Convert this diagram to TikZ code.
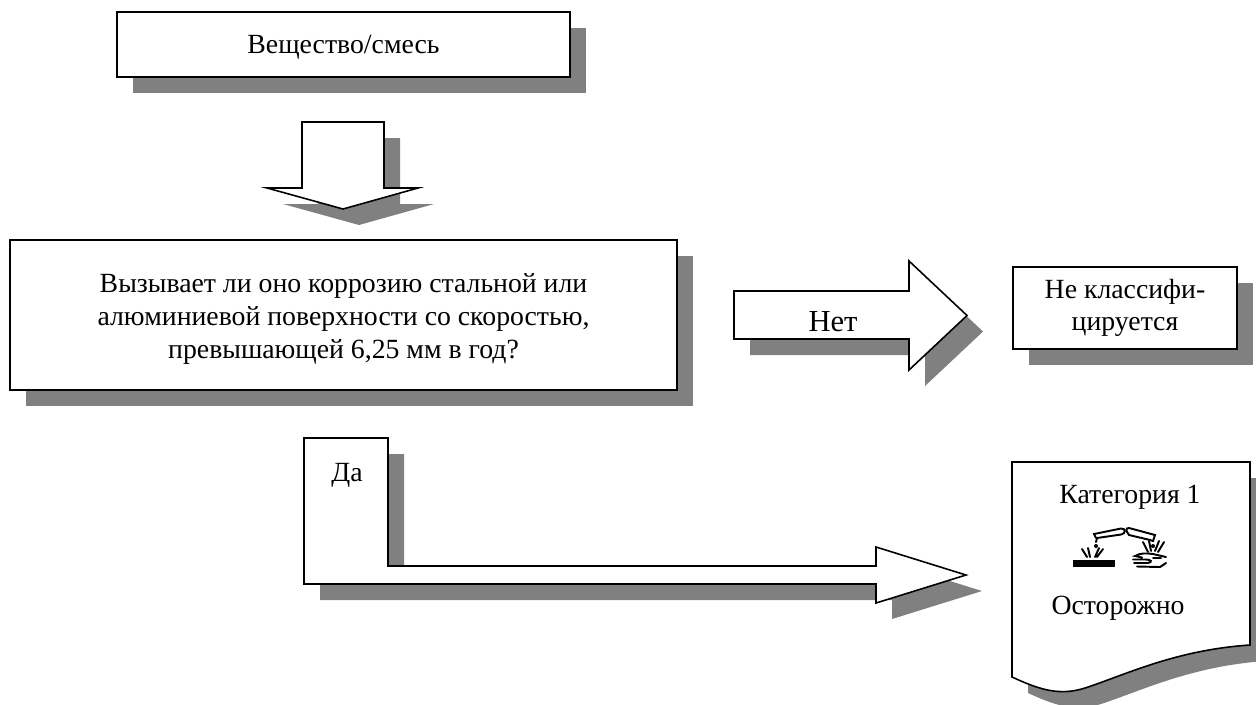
\documentclass[tikz,border=0pt]{standalone}
\usepackage{fontspec}
\setmainfont{Liberation Serif}
\usetikzlibrary{shadows}
\definecolor{shadowgray}{RGB}{128,128,128}
\begin{document}
\begin{tikzpicture}[x=0.02cm, y=-0.02cm, font=\fontsize{15.8}{18.6}\selectfont,
	castshadow/.style={drop shadow={shadow xshift=0.32cm, shadow yshift=-0.32cm, fill=shadowgray, opacity=1}},
	box/.style={draw, line width=0.9pt, fill=white, castshadow, align=center, inner sep=0pt},
	blockarrow/.style={draw, line width=0.9pt, fill=white, castshadow}]
	\useasboundingbox (0,0) rectangle (1256,704);
	% boxes
	\node[box, minimum width=9.06cm, minimum height=1.3cm, text depth=0pt] (subst) at (343.5,44.5) {Вещество/смесь};
	\node[box, minimum width=13.34cm, minimum height=3cm] (quest) at (343.5,315) {};
	\node[align=center, yshift=-0.08cm] (questtext) at (quest.center) {Вызывает ли оно коррозию стальной или\\ алюминиевой поверхности со скоростью,\\ превышающей 6,25 мм в год?};
	\node[box, minimum width=4.48cm, minimum height=1.64cm] (notcl) at (1125,308) {Не классифи-\\ цируется};
	% block arrows
	\path[blockarrow] (302,122) -- (384,122) -- (384,188) -- (418,188) -- (343,209) -- (267,188) -- (302,188) -- cycle;
	\path[blockarrow] (734,291) -- (909,291) -- (909,261) -- (967,315.5) -- (909,370) -- (909,339) -- (734,339) -- cycle;
	\path[blockarrow] (304,438) -- (388,438) -- (388,566) -- (876,566) -- (876,547) -- (966,575) -- (876,603) -- (876,584) -- (304,584) -- cycle;
	\node[scale=1.1] (no) at (833,322) {Нет};
	\node (yes) at (347,475) {Да};
	% document
	\path[blockarrow] (1012,462) -- (1250,462) -- (1250,645) .. controls (1175,650) and (1125,675) .. (1085,688) .. controls (1060,696) and (1040,690) .. (1012,677) -- cycle;
	\node (cat) at (1130,497) {Категория 1};
	\node (warn) at (1118,608) {Осторожно};
	% corrosion pictogram
	\begin{scope}[line width=1.1pt, line cap=round]
		\fill (1073,560) rectangle (1115,567);
		\draw (1096,538) -- (1094,534) -- (1121,528.5) .. controls (1126,528) and (1126,534) .. (1121,534.5) -- (1097,538) -- (1096,542);
		\draw (1127,532) .. controls (1125,528) and (1128,527.5) .. (1131,528.5) -- (1155,535) -- (1153,541) -- (1150,540) -- (1129,535) -- cycle;
		\fill (1096,546) circle (2);
		\fill (1153,546) circle (2);
		\draw (1082,549) -- (1087,557) (1088,548) -- (1090,557) (1099,548) -- (1095,557) (1103,549) -- (1097,557);
		\draw (1143,542) -- (1148,552) (1149,541) -- (1151,551) (1159,541) -- (1155,551) (1164,542) -- (1158,552);
		\draw (1166,557) -- (1153,554) .. controls (1146,553) and (1140,553) .. (1135,556) -- (1142,557.5) (1133,559.5) -- (1146,559.5) (1134,563) -- (1148,563) (1137,566.5) -- (1160,567) -- (1166,563);
		\draw (1146,559.5) .. controls (1151,559.5) and (1153,562) .. (1148,563) (1153,558) -- (1161,558);
	\end{scope}
\end{tikzpicture}
\end{document}
